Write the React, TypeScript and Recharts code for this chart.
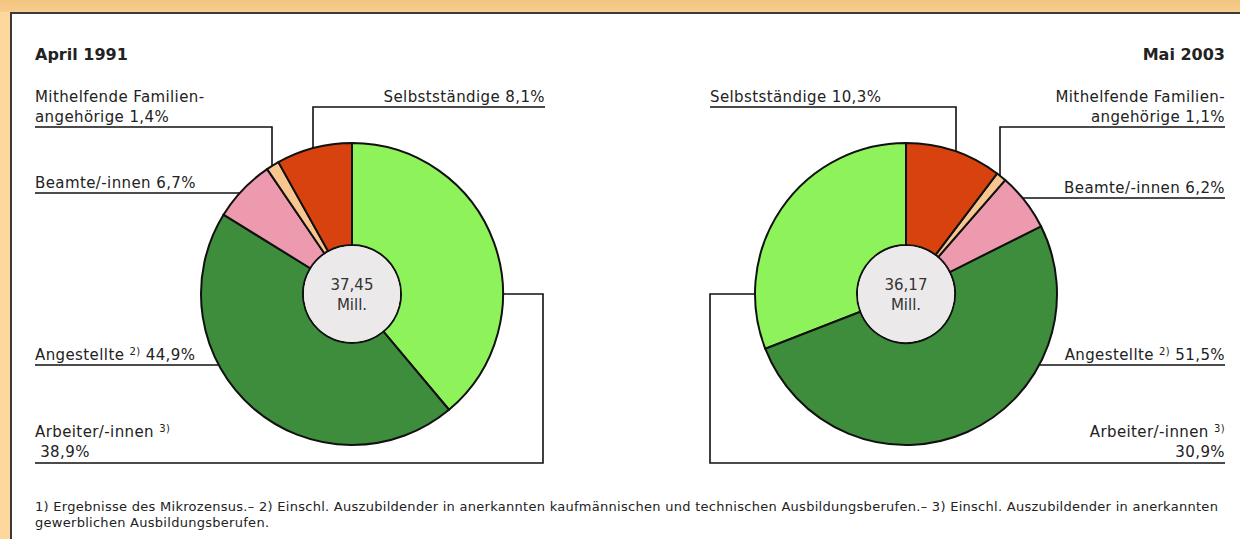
import React from 'react';
import { Cell, Pie, PieChart } from 'recharts';

const categories = ['Arbeiter/-innen', 'Angestellte', 'Beamte/-innen', 'Mithelfende Familien-|angehörige', 'Selbstständige'];
const footnoteRefs = ['3)', '2)', '', '', ''];
const shares1991 = [38.9, 44.9, 6.7, 1.4, 8.1];
const shares2003 = [30.9, 51.5, 6.2, 1.1, 10.3];
const totals = [37.45, 36.17];
const periods = ['April 1991', 'Mai 2003'];
const colors = ['#8ef35b', '#3e8d3d', '#ee9aae', '#f8c68e', '#d8420f'];
const footnotes = [
  '1) Ergebnisse des Mikrozensus.– 2) Einschl. Auszubildender in anerkannten kaufmännischen und technischen Ausbildungsberufen.– 3) Einschl. Auszubildender in anerkannten',
  'gewerblichen Ausbildungsberufen.',
];

const FONT = "'DejaVu Sans', 'Open Sans', sans-serif";
const INK = '#222';

type Layout = {
  tx: number;
  anchor: 'start' | 'end';
  by: number[];
  uy: number;
  bend?: number;
  hit: 'h' | 'v';
};

// where each label sits and how its leader line runs to the ring
const layout1991: Layout[] = [
  { tx: 35, anchor: 'start', by: [437, 457], uy: 463, bend: 543, hit: 'h' },
  { tx: 35, anchor: 'start', by: [360], uy: 365, hit: 'h' },
  { tx: 35, anchor: 'start', by: [188], uy: 193, hit: 'h' },
  { tx: 35, anchor: 'start', by: [102, 122], uy: 127, bend: 272, hit: 'v' },
  { tx: 545, anchor: 'end', by: [102], uy: 107, bend: 313, hit: 'v' },
];
const layout2003: Layout[] = [
  { tx: 1225, anchor: 'end', by: [437, 457], uy: 463, bend: 710, hit: 'h' },
  { tx: 1225, anchor: 'end', by: [360], uy: 365, hit: 'h' },
  { tx: 1225, anchor: 'end', by: [193], uy: 198, hit: 'h' },
  { tx: 1225, anchor: 'end', by: [102, 122], uy: 127, bend: 1000, hit: 'v' },
  { tx: 710, anchor: 'start', by: [102], uy: 107, bend: 956, hit: 'v' },
];

const pct = (v: number) => `${v.toFixed(1).replace('.', ',')}%`;

const makeLabel = (layouts: Layout[]) => (props: any) => {
  const { index, cx, cy, outerRadius, value } = props;
  const L = layouts[index];
  const r = outerRadius;
  let pts: [number, number][] = [];
  if (L.hit === 'v') {
    const dx = (L.bend as number) - cx;
    const y = cy - Math.sqrt(r * r - dx * dx);
    pts = [[L.tx, L.uy], [L.bend as number, L.uy], [L.bend as number, y]];
  } else if (L.bend !== undefined) {
    const side = L.bend < cx ? -1 : 1;
    pts = [[L.tx, L.uy], [L.bend, L.uy], [L.bend, cy], [cx + side * r, cy]];
  } else {
    const side = L.tx < cx ? -1 : 1;
    const dy = L.uy - cy;
    pts = [[L.tx, L.uy], [cx + side * Math.sqrt(r * r - dy * dy), L.uy]];
  }
  const parts = categories[index].split('|');
  const ref = footnoteRefs[index];
  const supEl = ref ? <>{' '}<tspan fontSize={10} dy={-5}>{ref}</tspan></> : null;
  let lines: React.ReactNode[];
  if (parts.length > 1) {
    lines = [parts[0], `${parts[1]} ${pct(value)}`];
  } else if (L.by.length > 1) {
    lines = [<>{parts[0]}{supEl}</>, (L.anchor === 'start' ? ' ' : '') + pct(value)];
  } else if (ref) {
    lines = [<>{parts[0]}{supEl}<tspan dy={5}>{' '}{pct(value)}</tspan></>];
  } else {
    lines = [`${parts[0]} ${pct(value)}`];
  }
  return (
    <g>
      <polyline points={pts.map((p) => p.join(',')).join(' ')} fill="none" stroke="#111" strokeWidth={1.6} />
      {lines.map((ln, i) => (
        <text
          key={i}
          x={L.tx}
          y={L.by[i]}
          textAnchor={L.anchor}
          fontFamily={FONT}
          fontSize={15}
          letterSpacing={0.4}
          fill={INK}
          style={{ whiteSpace: 'pre' }}
        >
          {ln}
        </text>
      ))}
    </g>
  );
};

const centerLabel = (total: number) => (props: any) => (
  <text x={props.cx} y={props.cy} textAnchor="middle" fontFamily={FONT} fontSize={15} fill="#333">
    <tspan x={props.cx} dy={-4}>{total.toFixed(2).replace('.', ',')}</tspan>
    <tspan x={props.cx} dy={20}>Mill.</tspan>
  </text>
);

const data1991 = categories.map((name, i) => ({ name, value: shares1991[i] }));
const data2003 = categories.map((name, i) => ({ name, value: shares2003[i] }));

export default function App() {
  return (
    <div style={{ position: 'absolute', left: 0, top: 0, width: 1240, height: 539, background: '#fcd89c', overflow: 'hidden' }}>
      <div style={{ position: 'absolute', left: 0, top: 0, width: 1240, height: 12, background: 'linear-gradient(#f3c47f, #f7cd8d)' }} />
      <div
        style={{
          position: 'absolute', left: 10, top: 12, width: 1240, height: 540, background: '#fff',
          borderTop: '2px solid #3a3a3a', borderLeft: '2px solid #3a3a3a', boxSizing: 'border-box',
        }}
      />
      <div style={{ position: 'absolute', left: 35, top: 45, lineHeight: '20px', fontFamily: FONT, fontWeight: 700, fontSize: 16, color: INK }}>
        {periods[0]}
      </div>
      <div style={{ position: 'absolute', right: 15, top: 45, lineHeight: '20px', fontFamily: FONT, fontWeight: 700, fontSize: 16, color: INK }}>
        {periods[1]}
      </div>
      <div
        style={{
          position: 'absolute', left: 35, top: 499, lineHeight: '16px', fontFamily: FONT, fontSize: 13,
          letterSpacing: 0.28, color: INK, whiteSpace: 'nowrap',
        }}
      >
        {footnotes.map((f, i) => <div key={i}>{f}</div>)}
      </div>
      <div style={{ position: 'absolute', left: 0, top: 0 }}>
        <PieChart width={1240} height={539} margin={{ top: 0, right: 0, bottom: 0, left: 0 }}>
          <Pie
            data={data1991}
            dataKey="value"
            nameKey="name"
            cx={352}
            cy={294}
            innerRadius={49}
            outerRadius={151}
            startAngle={90}
            endAngle={-270}
            stroke="#111"
            strokeWidth={2}
            labelLine={false}
            label={makeLabel(layout1991)}
            isAnimationActive={false}
          >
            {data1991.map((d, i) => <Cell key={d.name} fill={colors[i]} />)}
          </Pie>
          <Pie
            data={[{ name: 'total', value: totals[0] }]}
            dataKey="value"
            cx={352}
            cy={294}
            innerRadius={0}
            outerRadius={48}
            fill="#ebe9ea"
            stroke="none"
            labelLine={false}
            label={centerLabel(totals[0])}
            isAnimationActive={false}
          />
          <Pie
            data={data2003}
            dataKey="value"
            nameKey="name"
            cx={906}
            cy={294}
            innerRadius={49}
            outerRadius={151}
            startAngle={90}
            endAngle={450}
            stroke="#111"
            strokeWidth={2}
            labelLine={false}
            label={makeLabel(layout2003)}
            isAnimationActive={false}
          >
            {data2003.map((d, i) => <Cell key={d.name} fill={colors[i]} />)}
          </Pie>
          <Pie
            data={[{ name: 'total', value: totals[1] }]}
            dataKey="value"
            cx={906}
            cy={294}
            innerRadius={0}
            outerRadius={48}
            fill="#ebe9ea"
            stroke="none"
            labelLine={false}
            label={centerLabel(totals[1])}
            isAnimationActive={false}
          />
        </PieChart>
      </div>
    </div>
  );
}
